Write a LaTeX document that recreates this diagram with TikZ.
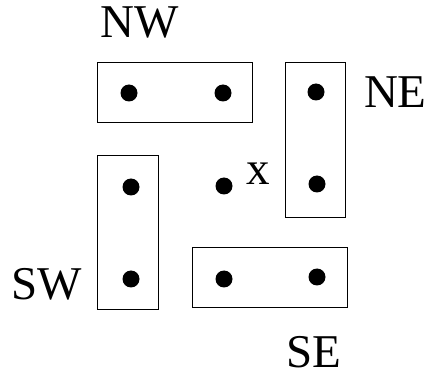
\documentclass[tikz,border=0pt]{standalone}
\usepackage{fontspec}
\setmainfont{Liberation Serif}
\begin{document}
\begin{tikzpicture}[x=0.5pt, y=-0.5pt, line width=0.5pt,
  dot/.style={circle, fill=black, inner sep=0pt, minimum size=8.5pt},
  hbox/.style={draw, minimum width=77.5pt, minimum height=30pt},
  vbox/.style={draw, minimum width=30.3pt, minimum height=77.2pt},
  lbl/.style={anchor=base west, inner sep=0pt, font=\fontsize{23.5}{27}\selectfont}]
  \useasboundingbox (0,0) rectangle (429,374);

  \node (nw) at (175, 92.7) [hbox] {};
  \node (ne) at (315.5, 140) [vbox] {};
  \node (sw) at (127.8, 232.8) [vbox] {};
  \node (se) at (269.8, 277.3) [hbox] {};

  \node (nw1) at (129, 93) [dot] {};
  \node (nw2) at (223, 93) [dot] {};
  \node (ne1) at (316, 92) [dot] {};
  \node (ne2) at (317, 184) [dot] {};
  \node (c) at (224, 186) [dot] {};
  \node (sw1) at (131, 187) [dot] {};
  \node (sw2) at (131, 279) [dot] {};
  \node (se1) at (224, 279) [dot] {};
  \node (se2) at (317, 277) [dot] {};

  \node (lnw) at (100, 37.7) [lbl] {NW};
  \node (lne) at (363.5, 107.3) [lbl] {NE};
  \node (lsw) at (10.5, 299.3) [lbl] {SW};
  \node (lse) at (286, 367.5) [lbl] {SE};
  \node (lx) at (246, 185) [lbl] {x};
\end{tikzpicture}
\end{document}
